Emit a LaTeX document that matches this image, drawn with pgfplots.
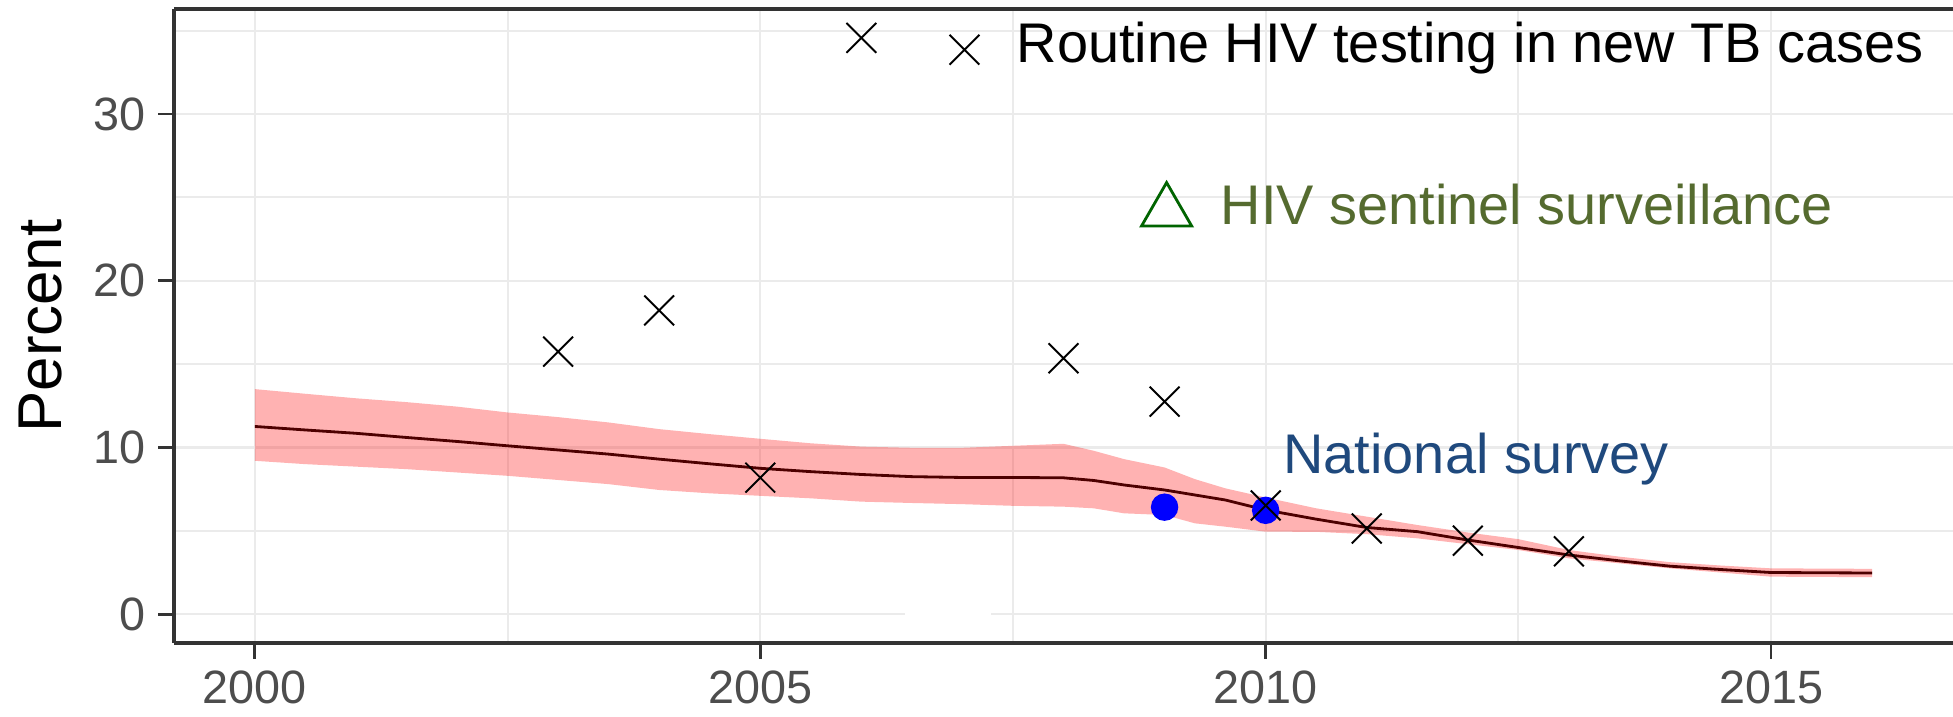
\documentclass[border=0pt]{standalone}
\usepackage{fontspec}
\setmainfont{Liberation Sans}
\usepackage{pgfplots}
\pgfplotsset{compat=1.18}
\usepgfplotslibrary{fillbetween}
\usepackage{pgfplotstable}

\definecolor{gridgrey}{RGB}{235,235,235}
\definecolor{axisgrey}{RGB}{51,51,51}
\definecolor{ticklab}{RGB}{77,77,77}
\definecolor{hivgreen}{RGB}{85,107,47}
\definecolor{natblue}{RGB}{31,73,125}
\definecolor{dkgreen}{RGB}{0,100,0}
\definecolor{midline}{RGB}{77,0,0}

\pgfplotstableread{
year   mid    lo     hi
2000.0 11.26  9.20  13.50
2000.5 11.05  9.00  13.22
2001.0 10.85  8.85  12.95
2001.5 10.60  8.70  12.72
2002.0 10.36  8.50  12.45
2002.5 10.10  8.30  12.10
2003.0  9.85  8.05  11.82
2003.5  9.60  7.80  11.50
2004.0  9.30  7.45  11.10
2004.5  9.02  7.25  10.80
2005.0  8.75  7.10  10.52
2005.5  8.55  6.95  10.25
2006.0  8.38  6.75  10.05
2006.5  8.25  6.67   9.98
2007.0  8.20  6.60   9.98
2007.5  8.20  6.50  10.10
2008.0  8.18  6.45  10.22
2008.3  8.02  6.35   9.80
2008.6  7.75  6.05   9.30
2009.0  7.45  5.95   8.80
2009.3  7.15  5.45   8.10
2009.6  6.85  5.25   7.55
2010.0  6.25  4.95   7.00
2010.5  5.70  4.94   6.35
2011.0  5.20  4.80   5.85
2011.5  4.95  4.55   5.35
2012.0  4.45  4.20   4.90
2012.5  4.00  3.85   4.50
2013.0  3.55  3.35   3.85
2013.5  3.20  3.05   3.45
2014.0  2.88  2.75   3.12
2014.5  2.68  2.50   2.92
2015.0  2.50  2.25   2.75
2016.0  2.47  2.22   2.72
}\est

\begin{document}
\begin{tikzpicture}
\begin{axis}[
  scale only axis, width=177.9mm, height=63.4mm,
  xmin=1999.2, xmax=2016.8, ymin=-1.73, ymax=36.3,
  axis x line*=box, axis y line*=left,
  axis line style={axisgrey, line width=0.9pt},
  xtick={2000,2005,2010,2015}, ytick={0,10,20,30},
  minor xtick={2002.5,2007.5,2012.5}, minor ytick={5,15,25,35},
  xtick pos=left, ytick pos=left, tick align=outside,
  major tick length=4.5pt, minor tick length=0pt,
  major tick style={axisgrey, line width=0.8pt},
  grid=both,
  major grid style={gridgrey, line width=0.6pt},
  minor grid style={gridgrey, line width=0.6pt},
  ticklabel style={font=\fontsize{13.3}{16}\selectfont, text=ticklab},
  /pgf/number format/assume math mode=true,
  /pgf/number format/set thousands separator={},
  ylabel={Percent},
  ylabel style={font=\fontsize{17.6}{20}\selectfont, at={(axis description cs:-0.0753,0.5)}, anchor=center},
]
\coordinate (sw) at (rel axis cs:0,0);
\coordinate (ne) at (rel axis cs:1,1);
\addplot[fill=white, draw=none] coordinates {(2006.43,-0.35) (2007.28,-0.35) (2007.28,0.35) (2006.43,0.35)};
\addplot[draw=none, name path=up] table[x=year,y=hi]{\est};
\addplot[draw=none, name path=dn] table[x=year,y=lo]{\est};
\addplot[fill=red, fill opacity=0.3, draw=none] fill between[of=up and dn];
\addplot[midline, line width=0.8pt] table[x=year,y=mid]{\est};
\addplot[only marks, mark=*, mark size=3.7pt, blue, mark options={fill=blue, draw=blue}]
  coordinates {(2009,6.42) (2010,6.23)};
\addplot[only marks, mark=x, mark size=6pt, black, mark options={line width=0.55pt}]
  coordinates {(2003,15.75) (2004,18.22) (2005,8.19) (2006,34.57) (2008,15.35) (2009,12.75) (2010,6.52) (2011,5.14) (2012,4.41) (2013,3.77) (2007.02,33.86)};
\addplot[only marks, mark=triangle, mark size=8.25pt, dkgreen, mark options={line width=0.8pt}]
  coordinates {(2009.02,24.15)};
\node[anchor=base west, inner sep=0pt, font=\fontsize{15.9}{18}\selectfont] at (axis cs:2007.53,33.11) {Routine HIV testing in new TB cases};
\node[anchor=base west, inner sep=0pt, font=\fontsize{15.9}{18}\selectfont, text=hivgreen] at (axis cs:2009.55,23.4) {HIV sentinel surveillance};
\node[anchor=base west, inner sep=0pt, font=\fontsize{15.9}{18}\selectfont, text=natblue] at (axis cs:2010.17,8.43) {National survey};
\end{axis}
\pgfresetboundingbox
\useasboundingbox ([shift={(-17.4mm,-7.3mm)}]sw) rectangle ([shift={(0mm,0.9mm)}]ne);
\end{tikzpicture}
\end{document}
